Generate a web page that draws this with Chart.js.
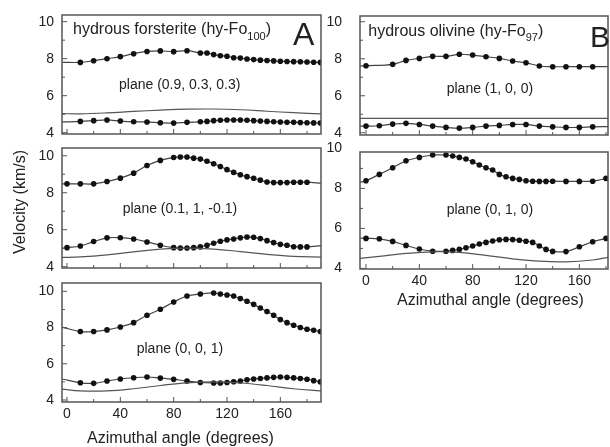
<!DOCTYPE html>
<html lang="en">

<head>
  <meta charset="UTF-8">
  <title>Velocity vs azimuthal angle</title>
  <script src="https://cdn.jsdelivr.net/npm/chart.js"></script>
  <style>
    body { margin: 0; background: #fff; }
    #wrap { position: relative; width: 610px; height: 447px; }
    #wrap canvas { position: absolute; left: 0; top: 0; }
  </style>
</head>

<body>
  <div id="wrap">
    <canvas id="a1" width="610" height="447"></canvas>
    <canvas id="a2" width="610" height="447"></canvas>
    <canvas id="a3" width="610" height="447"></canvas>
    <canvas id="b1" width="610" height="447"></canvas>
    <canvas id="b2" width="610" height="447"></canvas>
  </div>
  <script>
    // ticks
    const xTicks = [0, 40, 80, 120, 160];
    const xMinorTicks = [20, 60, 100, 140, 180];
    const yTicks = [4, 6, 8, 10];
    const yMinorTicks = [5, 7, 9];

    // A: hydrous forsterite, plane (0.9, 0.3, 0.3)
    const a1Angles = [10, 20, 30, 40, 50, 60, 70, 80, 90, 100, 105, 110, 115, 120, 125, 130, 135, 140, 145, 150, 155, 160, 165, 170, 175, 180, 185, 190];
    const a1Upper = [7.80, 7.89, 8.00, 8.11, 8.27, 8.39, 8.42, 8.38, 8.43, 8.31, 8.31, 8.22, 8.16, 8.13, 8.05, 8.03, 7.98, 7.95, 7.92, 7.90, 7.88, 7.86, 7.85, 7.84, 7.83, 7.82, 7.81, 7.80];
    const a1Lower = [4.61, 4.65, 4.69, 4.63, 4.59, 4.58, 4.54, 4.52, 4.56, 4.59, 4.61, 4.65, 4.67, 4.69, 4.69, 4.69, 4.67, 4.65, 4.63, 4.61, 4.59, 4.58, 4.56, 4.56, 4.55, 4.54, 4.53, 4.52];
    const a1UpperEnds = [7.80, 7.80];
    const a1LowerEnds = [4.58, 4.52];
    const a1SolidAngles = [-4, 10, 30, 50, 70, 90, 110, 130, 150, 170, 190.5];
    const a1Solid = [5.03, 5.02, 5.07, 5.15, 5.22, 5.27, 5.28, 5.24, 5.16, 5.08, 5.02];

    // plane (0.1, 1, -0.1)
    const a2Angles = [0, 10, 20, 30, 40, 50, 60, 70, 80, 85, 90, 95, 100, 105, 110, 115, 120, 125, 130, 135, 140, 145, 150, 155, 160, 165, 170, 175, 180];
    const a2Upper = [8.48, 8.48, 8.48, 8.61, 8.79, 9.06, 9.47, 9.75, 9.91, 9.93, 9.93, 9.87, 9.82, 9.70, 9.57, 9.42, 9.25, 9.10, 8.97, 8.87, 8.78, 8.68, 8.58, 8.55, 8.55, 8.55, 8.57, 8.57, 8.57];
    const a2Lower = [5.03, 5.12, 5.36, 5.56, 5.57, 5.50, 5.34, 5.16, 5.03, 5.01, 5.01, 5.03, 5.07, 5.16, 5.27, 5.38, 5.45, 5.50, 5.56, 5.61, 5.59, 5.52, 5.41, 5.30, 5.21, 5.16, 5.08, 5.07, 5.07];
    const a2UpperEnds = [8.48, 8.52];
    const a2LowerEnds = [5.00, 5.14];
    const a2SolidAngles = [-4, 10, 30, 50, 70, 90, 110, 130, 150, 170, 190.5];
    const a2Solid = [4.50, 4.53, 4.64, 4.80, 4.95, 5.00, 4.95, 4.82, 4.67, 4.56, 4.52];

    // plane (0, 0, 1)
    const a3Angles = [10, 20, 30, 40, 50, 60, 70, 80, 90, 100, 110, 115, 120, 125, 130, 135, 140, 145, 150, 155, 160, 165, 170, 175, 180, 185, 190];
    const a3Upper = [7.78, 7.78, 7.87, 8.03, 8.27, 8.68, 9.01, 9.41, 9.74, 9.85, 9.91, 9.85, 9.80, 9.74, 9.60, 9.45, 9.28, 9.08, 8.88, 8.68, 8.44, 8.27, 8.13, 8.00, 7.91, 7.85, 7.78];
    const a3Lower = [4.95, 4.92, 5.05, 5.16, 5.23, 5.27, 5.21, 5.14, 5.05, 4.97, 4.94, 4.94, 4.97, 5.01, 5.05, 5.12, 5.16, 5.19, 5.22, 5.25, 5.27, 5.25, 5.22, 5.19, 5.15, 5.07, 5.00];
    const a3UpperEnds = [8.03, 7.77];
    const a3LowerEnds = [5.16, 4.98];
    const a3SolidAngles = [-4, 10, 30, 50, 70, 90, 110, 130, 150, 170, 190.5];
    const a3Solid = [4.60, 4.50, 4.50, 4.62, 4.80, 4.95, 5.00, 4.94, 4.80, 4.62, 4.50];

    // B: hydrous olivine, plane (1, 0, 0)
    const b1UpperAngles = [0, 20, 30, 40, 50, 60, 70, 80, 90, 100, 110, 120, 130, 140, 150, 160, 170];
    const b1Upper = [7.62, 7.70, 7.91, 8.02, 8.13, 8.13, 8.24, 8.20, 8.11, 8.02, 7.88, 7.78, 7.61, 7.57, 7.57, 7.57, 7.57];
    const b1LowerAngles = [0, 10, 20, 30, 40, 50, 60, 70, 80, 90, 100, 110, 120, 130, 140, 150, 160, 170];
    const b1Lower = [4.36, 4.38, 4.47, 4.51, 4.45, 4.36, 4.29, 4.25, 4.29, 4.36, 4.40, 4.45, 4.45, 4.36, 4.32, 4.29, 4.29, 4.32];
    const b1UpperEnds = [7.60, 7.57];
    const b1LowerEnds = [4.36, 4.33];
    const b1SolidAngles = [-4.5, 60, 120, 181.5];
    const b1Solid = [4.78, 4.78, 4.78, 4.78];

    // plane (0, 1, 0)
    const b2Angles = [0, 10, 20, 30, 40, 50, 60, 65, 70, 75, 80, 85, 90, 95, 100, 105, 110, 115, 120, 125, 130, 135, 140, 150, 160, 170, 180];
    const b2Upper = [8.38, 8.70, 9.03, 9.38, 9.55, 9.67, 9.67, 9.62, 9.55, 9.47, 9.33, 9.17, 9.03, 8.92, 8.70, 8.58, 8.50, 8.45, 8.38, 8.36, 8.35, 8.35, 8.36, 8.35, 8.35, 8.36, 8.50];
    const b2Lower = [5.50, 5.48, 5.35, 5.15, 4.97, 4.86, 4.86, 4.90, 4.95, 5.03, 5.12, 5.22, 5.30, 5.37, 5.43, 5.45, 5.44, 5.41, 5.36, 5.30, 5.12, 4.95, 4.85, 4.84, 5.08, 5.33, 5.50];
    const b2UpperEnds = [8.30, 8.52];
    const b2LowerEnds = [5.52, 5.52];
    const b2SolidAngles = [-4.5, 10, 30, 50, 70, 90, 110, 130, 150, 170, 181.5];
    const b2Solid = [4.50, 4.60, 4.75, 4.83, 4.80, 4.65, 4.48, 4.36, 4.33, 4.42, 4.55];

    const FONT = '"Liberation Sans", Arial, sans-serif';
    Chart.defaults.font.family = FONT;
    Chart.defaults.font.size = 14;
    Chart.defaults.color = '#222';

    // frame, inward ticks and free text
    const deco = {
      id: 'deco',
      afterDraw(chart, args, opts) {
        const { ctx, chartArea: a, scales: { x, y } } = chart;
        ctx.save();
        ctx.strokeStyle = '#555';
        ctx.lineWidth = 1.5;
        ctx.strokeRect(a.left, a.top, a.right - a.left, a.bottom - a.top);
        ctx.lineWidth = 1;
        ctx.beginPath();
        yTicks.concat(yMinorTicks).forEach(v => {
          const py = y.getPixelForValue(v);
          if (py < a.top || py > a.bottom) return;
          ctx.moveTo(a.left, py);
          ctx.lineTo(a.left + (yTicks.includes(v) ? 5 : 3), py);
        });
        xTicks.concat(xMinorTicks).forEach(v => {
          const px = x.getPixelForValue(v);
          ctx.moveTo(px, a.bottom);
          ctx.lineTo(px, a.bottom - (xTicks.includes(v) ? 5 : 3));
        });
        ctx.stroke();

        ctx.fillStyle = '#222';
        ctx.textBaseline = 'alphabetic';
        (opts.texts || []).forEach(t => {
          ctx.save();
          ctx.translate(t.x, t.y);
          if (t.rot) ctx.rotate(t.rot * Math.PI / 180);
          let w = 0;
          t.parts.forEach(p => {
            ctx.font = p[1] + 'px ' + FONT;
            w += ctx.measureText(p[0]).width;
          });
          let cx = t.center ? -w / 2 : 0;
          t.parts.forEach(p => {
            ctx.font = p[1] + 'px ' + FONT;
            ctx.fillText(p[0], cx, p[2] || 0);
            cx += ctx.measureText(p[0]).width;
          });
          ctx.restore();
        });
        ctx.restore();
      }
    };

    function dotted(angles, values, ends, xr) {
      const data = angles.map((a, i) => ({ x: a, y: values[i] }));
      data.unshift({ x: xr[0], y: ends[0] });
      data.push({ x: xr[1], y: ends[1] });
      const last = data.length - 1;
      return {
        data,
        borderColor: '#444',
        borderWidth: 1.2,
        tension: 0.35,
        pointRadius: c => (c.dataIndex === 0 || c.dataIndex === last) ? 0 : 2.8,
        pointBackgroundColor: '#111',
        pointBorderWidth: 0
      };
    }

    function solid(angles, values) {
      return {
        data: angles.map((a, i) => ({ x: a, y: values[i] })),
        borderColor: '#555',
        borderWidth: 1.2,
        tension: 0.4,
        pointRadius: 0
      };
    }

    function panel(id, frame, xr, yr, labelPad, showX, datasets, texts) {
      const [l, t, r, b] = frame;
      new Chart(document.getElementById(id), {
        type: 'line',
        data: { datasets },
        plugins: [deco],
        options: {
          responsive: false,
          animation: false,
          events: [],
          layout: { padding: { left: l - 40, top: t, right: 610 - r, bottom: 447 - b - 30 } },
          plugins: { legend: { display: false }, tooltip: { enabled: false }, deco: { texts } },
          scales: {
            x: {
              type: 'linear', min: xr[0], max: xr[1],
              afterBuildTicks: s => { s.ticks = xTicks.map(v => ({ value: v })); },
              afterFit: s => { s.height = 30; s.paddingLeft = 0; s.paddingRight = 0; },
              grid: { display: false, drawTicks: false },
              border: { display: false },
              ticks: { display: showX, padding: 4, maxRotation: 0, autoSkip: false }
            },
            y: {
              type: 'linear', min: yr[0], max: yr[1],
              afterBuildTicks: s => { s.ticks = yTicks.map(v => ({ value: v })); },
              // keep the frame where it is: no extra room for end labels
              afterFit: s => { s.width = 40; s.paddingTop = 0; s.paddingBottom = 0; },
              grid: { display: false, drawTicks: false },
              border: { display: false },
              ticks: { padding: labelPad, autoSkip: false }
            }
          }
        }
      });
    }

    const xrA = [-3.75, 190.5];
    const xrB = [-4.5, 181.5];

    panel('a1', [62, 15, 321, 134], xrA, [3.93, 10.36], 8, false, [
      solid(a1SolidAngles, a1Solid),
      dotted(a1Angles, a1Upper, a1UpperEnds, xrA),
      dotted(a1Angles, a1Lower, a1LowerEnds, xrA)
    ], [
      { x: 73, y: 33.5, parts: [['hydrous forsterite (hy-Fo', 16], ['100', 11, 6], [')', 16]] },
      { x: 293, y: 45, parts: [['A', 32]] },
      { x: 119, y: 89, parts: [['plane (0.9, 0.3, 0.3)', 14]] }
    ]);

    panel('a2', [62, 148, 321, 268], xrA, [3.93, 10.42], 8, false, [
      solid(a2SolidAngles, a2Solid),
      dotted(a2Angles, a2Upper, a2UpperEnds, xrA),
      dotted(a2Angles, a2Lower, a2LowerEnds, xrA)
    ], [
      { x: 122.7, y: 212.5, parts: [['plane (0.1, 1, -0.1)', 14]] },
      { x: 25, y: 202, rot: -90, center: true, parts: [['Velocity (km/s)', 16]] }
    ]);

    panel('a3', [62, 283, 321, 402], xrA, [3.89, 10.46], 8, true, [
      solid(a3SolidAngles, a3Solid),
      dotted(a3Angles, a3Upper, a3UpperEnds, xrA),
      dotted(a3Angles, a3Lower, a3LowerEnds, xrA)
    ], [
      { x: 136.7, y: 352.5, parts: [['plane (0, 0, 1)', 14]] },
      { x: 180.5, y: 443, center: true, parts: [['Azimuthal angle (degrees)', 16]] }
    ]);

    panel('b1', [360, 16, 608, 135], xrB, [3.88, 10.31], 18, false, [
      solid(b1SolidAngles, b1Solid),
      dotted(b1UpperAngles, b1Upper, b1UpperEnds, xrB),
      dotted(b1LowerAngles, b1Lower, b1LowerEnds, xrB)
    ], [
      { x: 368.3, y: 36, parts: [['hydrous olivine (hy-Fo', 16], ['97', 11, 5], [')', 16]] },
      { x: 590, y: 46.5, parts: [['B', 30]] },
      { x: 446.7, y: 92.5, parts: [['plane (1, 0, 0)', 14]] }
    ]);

    panel('b2', [360, 152, 608, 269], xrB, [3.97, 9.82], 18, true, [
      solid(b2SolidAngles, b2Solid),
      dotted(b2Angles, b2Upper, b2UpperEnds, xrB),
      dotted(b2Angles, b2Lower, b2LowerEnds, xrB)
    ], [
      { x: 446.7, y: 213.5, parts: [['plane (0, 1, 0)', 14]] },
      { x: 490.5, y: 305, center: true, parts: [['Azimuthal angle (degrees)', 16]] }
    ]);
  </script>
</body>

</html>
